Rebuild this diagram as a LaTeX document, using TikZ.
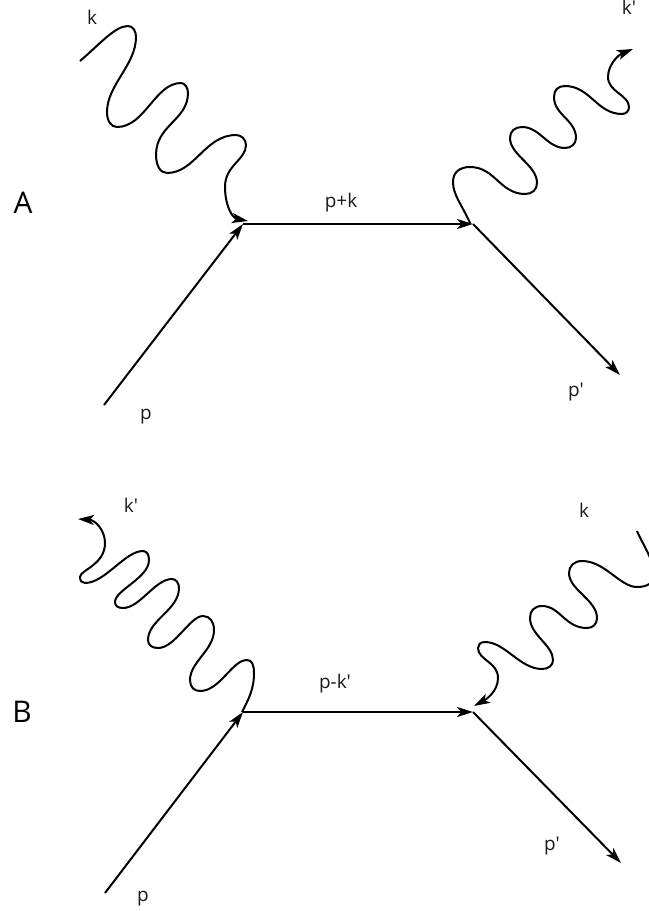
\documentclass[tikz,border=0pt]{standalone}
\usepackage{fontspec}
\setmainfont{Open Sans}
\usetikzlibrary{arrows.meta}
\tikzset{
  line/.style={line width=2bp,-{Stealth[length=16bp,width=10bp,inset=4bp]}},
  lab/.style={font=\fontsize{19}{22}\selectfont,text=black!90,inner sep=0pt},
  tag/.style={font=\fontsize{30}{34}\selectfont,text=black,inner sep=0pt}
}
\begin{document}
\begin{tikzpicture}[x=1bp,y=-1bp]
  \useasboundingbox (0,0) rectangle (649,911);
  \coordinate (a1) at (243,224);
  \coordinate (a2) at (473,224);
  \coordinate (ain) at (104,405);
  \coordinate (aout) at (620,375);
  \coordinate (b1) at (243,712);
  \coordinate (b2) at (473,712);
  \coordinate (bin) at (105,893);
  \coordinate (bout) at (621,863);

  \node[tag] (tagA) at (23,203) {A};
  \node[lab] (ka) at (92,17) {k};
  \node[lab] (kpa) at (629,7) {k′};
  \node[lab] (pka) at (341,203) {p+k};
  \node[lab] (pa) at (146,417) {p};
  \node[lab] (ppa) at (576,392) {p′};

  \node[tag] (tagB) at (22,712) {B};
  \node[lab] (kpb) at (131,505) {k′};
  \node[lab] (kb) at (584,510) {k};
  \node[lab] (pkb) at (335,684) {p-k′};
  \node[lab] (pb) at (143,899) {p};
  \node[lab] (ppb) at (552,846) {p′};

  \path[line]
    (ain) edge (a1)
    (a1) edge (a2)
    (a2) edge (aout)
    (bin) edge (b1)
    (b1) edge (b2)
    (b2) edge (bout);

  % photon k into the first vertex
  \coordinate (wa) at (248,221);
  \draw[line] (80,61) .. controls (100,44) and (115,26) .. (128,26)
    .. controls (133,26) and (136,31) .. (136,37)
    .. controls (136,65) and (107,85) .. (107,112)
    .. controls (107,121) and (111,127) .. (117,127)
    .. controls (145,127) and (155,83) .. (181,83)
    .. controls (185,83) and (188,88) .. (188,93)
    .. controls (188,120) and (156,125) .. (156,155)
    .. controls (156,165) and (160,173) .. (167,173)
    .. controls (195,173) and (205,135) .. (236,135)
    .. controls (241,135) and (246,139) .. (246,145)
    .. controls (246,160) and (225,165) .. (225,187)
    .. controls (225,205) and (232,218) .. (wa);

  % photon k' out of the second vertex
  \coordinate (wb) at (470,223);
  \draw[line] (wb) .. controls (462,205) and (453,195) .. (453,182)
    .. controls (453,172) and (460,167) .. (470,167)
    .. controls (495,167) and (500,194) .. (525,194)
    .. controls (532,194) and (537,190) .. (537,183)
    .. controls (537,165) and (510,155) .. (510,138)
    .. controls (510,131) and (515,127) .. (522,127)
    .. controls (540,127) and (547,148) .. (565,148)
    .. controls (571,148) and (576,144) .. (576,138)
    .. controls (576,120) and (554,115) .. (554,97)
    .. controls (554,90) and (558,86) .. (565,86)
    .. controls (590,86) and (597,114) .. (622,114)
    .. controls (626,114) and (629,111) .. (629,107)
    .. controls (629,95) and (608,92) .. (608,77)
    .. controls (608,65) and (618,55) .. (633,49);

  % photon k' out of the first vertex
  \coordinate (wc) at (242,712);
  \draw[line] (wc) .. controls (248,700) and (254,690) .. (254,673)
    .. controls (254,665) and (252,660) .. (247,660)
    .. controls (232,660) and (220,691) .. (200,691)
    .. controls (194,691) and (190,687) .. (190,680)
    .. controls (190,662) and (214,650) .. (214,630)
    .. controls (214,622) and (210,616) .. (203,616)
    .. controls (190,616) and (175,648) .. (158,648)
    .. controls (152,648) and (148,645) .. (148,640)
    .. controls (148,620) and (179,610) .. (179,588)
    .. controls (179,583) and (176,579) .. (172,579)
    .. controls (155,579) and (140,608) .. (123,608)
    .. controls (118,608) and (115,606) .. (115,602)
    .. controls (115,590) and (149,578) .. (149,560)
    .. controls (149,555) and (147,551) .. (143,551)
    .. controls (125,551) and (105,583) .. (85,583)
    .. controls (82,583) and (80,581) .. (80,577)
    .. controls (80,570) and (105,565) .. (105,543)
    .. controls (105,530) and (95,520) .. (78,519);

  % photon k into the second vertex
  \coordinate (wd) at (474,706);
  \draw[line] (637,531) .. controls (643,545) and (654,560) .. (654,575)
    .. controls (654,583) and (647,587) .. (637,587)
    .. controls (620,587) and (605,561) .. (582,561)
    .. controls (574,561) and (569,566) .. (569,573)
    .. controls (569,590) and (597,600) .. (597,618)
    .. controls (597,624) and (593,628) .. (587,628)
    .. controls (565,628) and (560,606) .. (542,606)
    .. controls (534,606) and (530,611) .. (530,618)
    .. controls (530,635) and (553,645) .. (553,660)
    .. controls (553,665) and (549,669) .. (542,669)
    .. controls (520,669) and (505,642) .. (485,642)
    .. controls (480,642) and (478,645) .. (478,648)
    .. controls (478,660) and (498,662) .. (498,678)
    .. controls (498,692) and (485,700) .. (wd);
\end{tikzpicture}
\end{document}
